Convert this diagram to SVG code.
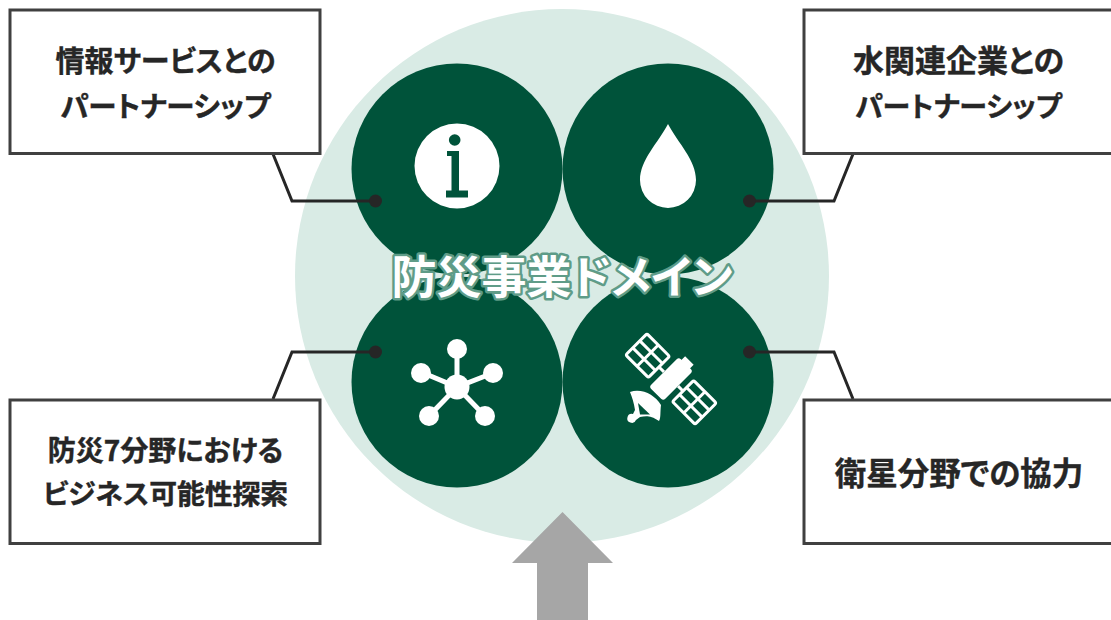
<svg xmlns="http://www.w3.org/2000/svg" width="1111" height="620" viewBox="0 0 1111 620">
<style>
.box{fill:#fff;stroke:#404040;stroke-width:3}
.t{font-family:"Noto Sans CJK JP","Noto Sans",sans-serif;font-weight:700;fill:#262626;stroke:#262626;stroke-width:.4;text-anchor:middle;font-feature-settings:"palt"}
.conn{fill:none;stroke:#262626;stroke-width:3}
.dot{fill:#262626}
.g{fill:#00533a}
.w{fill:#fff}
.wl{stroke:#fff;fill:none}
.title{font-family:"Noto Sans CJK JP","Noto Sans",sans-serif;font-weight:700;font-size:45px;text-anchor:middle;font-feature-settings:"palt"}
</style>
<rect width="1111" height="620" fill="#fff"/>
<circle id="bg-circle" cx="562" cy="276" r="267" fill="#d9ebe5"/>
<g id="arrow"><path d="M562.500 512L613 563H588V620H537V563H512Z" fill="#a6a6a6"/></g>
<g id="node-info"><circle class="g" cx="457" cy="169" r="105.500"/><circle class="w" cx="457" cy="166" r="42.500"/>
<circle class="g" cx="454.700" cy="140" r="5.800"/><path class="g" d="M447 151H459V190.500H468V197.500H446V190.500H451.500V156H447Z"/></g>
<g id="node-water"><circle class="g" cx="668" cy="169" r="105.500"/><path class="w" d="M668 124C678 143 696 160 696 180A28 28 0 0 1 640 180C640 160 658 143 668 124Z"/></g>
<g id="node-net"><circle class="g" cx="457" cy="382" r="105.500"/>
<path class="wl" stroke-width="5" d="M457 350V387M421 372L457 387L493 373M429 416L457 387L485 416"/>
<circle class="w" cx="457" cy="387" r="12.500"/><circle class="w" cx="457" cy="349" r="10"/><circle class="w" cx="421" cy="373" r="10"/><circle class="w" cx="493" cy="373" r="10"/><circle class="w" cx="429" cy="416" r="10"/><circle class="w" cx="485" cy="416" r="10"/></g>
<g id="node-sat"><circle class="g" cx="668" cy="382" r="105.500"/>
<g transform="translate(671 379) rotate(-45)">
<rect class="w" x="-21" y="-10" width="42" height="20" rx="3"/><rect class="w" x="20" y="-6" width="6" height="12"/>
<g class="wl" stroke-width="3"><rect x="-15" y="-49" width="30" height="32" rx="2"/><path d="M-5 -49V-17M5 -49V-17M-15 -33H15"/><path d="M0 -17V-10"/>
<rect x="-15" y="17" width="30" height="32" rx="2"/><path d="M-5 17V49M5 17V49M-15 33H15"/><path d="M0 10V17"/></g>
</g>
<path class="w" d="M630 392C642 388 655 395 661 405C660 413 661 418 659 421C650 415 646 416 640 417L636 420A4.500 4.500 0 1 1 633 414L635 410C634 403 632 397 630 392Z"/>
<path class="g" d="M638 403L650 414.500H640Z"/></g>
<g id="title">
<text class="title" x="562" y="294" fill="none" stroke="#5f9c88" stroke-width="5" stroke-linejoin="round">防災事業ドメイン</text>
<text class="title" x="562" y="294" fill="#fff">防災事業ドメイン</text></g>
<g id="connectors">
<path class="conn" d="M273 154L292 201H375"/><circle class="dot" cx="375.500" cy="201" r="6.500"/>
<path class="conn" d="M853 154L834 201H749"/><circle class="dot" cx="749.500" cy="201" r="6.500"/>
<path class="conn" d="M273 399L292 352H375"/><circle class="dot" cx="375.500" cy="352" r="6.500"/>
<path class="conn" d="M853 399L834 352H749"/><circle class="dot" cx="749.500" cy="352" r="6.500"/>
</g>
<g id="box-info"><rect class="box" x="10" y="10" width="310" height="143.500"/>
<text class="t" font-size="29" x="165.500" y="72">情報サービスとの</text><text class="t" font-size="28.500" x="165.500" y="117">パートナーシップ</text></g>
<g id="box-water"><rect class="box" x="804" y="10" width="320" height="143.500"/>
<text class="t" font-size="31" x="958.500" y="72">水関連企業との</text><text class="t" font-size="28" x="958.500" y="117">パートナーシップ</text></g>
<g id="box-biz"><rect class="box" x="10" y="400" width="310" height="143.500"/>
<text class="t" font-size="28" x="165.500" y="461">防災7分野における</text><text class="t" font-size="27.800" x="165.500" y="504">ビジネス可能性探索</text></g>
<g id="box-sat"><rect class="box" x="804" y="400" width="320" height="143.500"/>
<text class="t" font-size="31.500" x="959" y="485">衛星分野での協力</text></g>
</svg>
